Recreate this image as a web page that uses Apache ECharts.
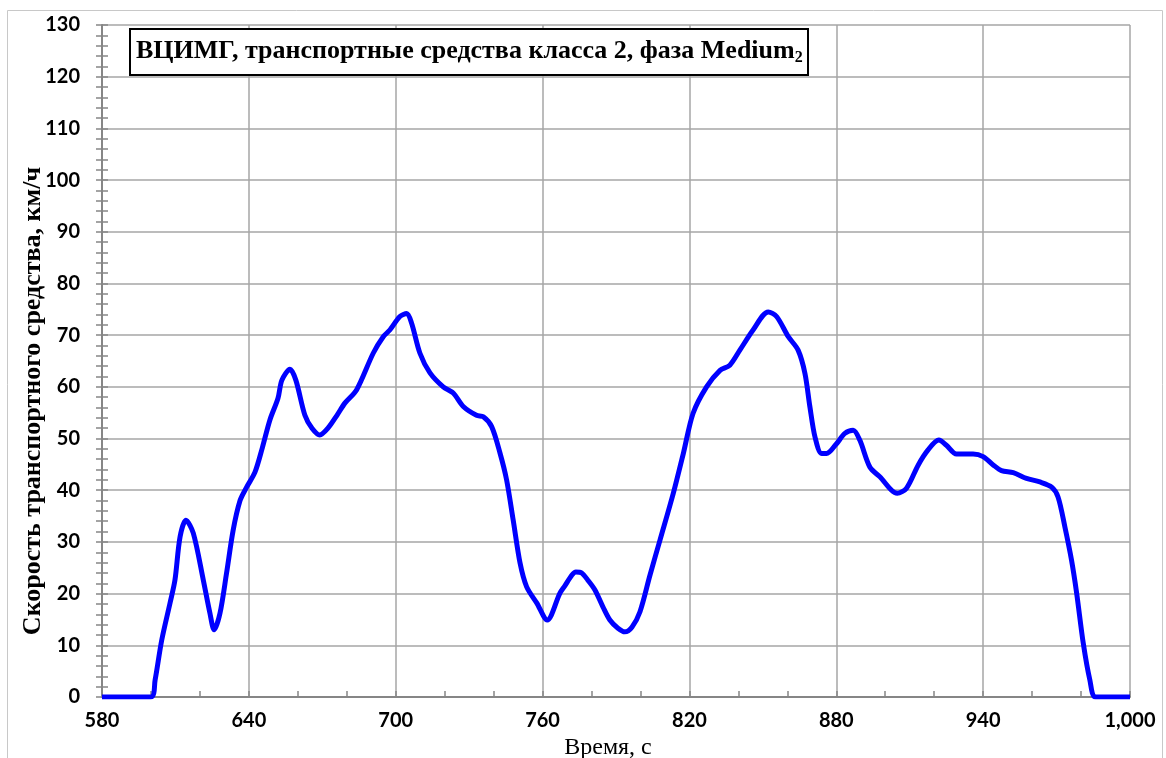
<!DOCTYPE html>
<html>
<head>
<meta charset="utf-8">
<script src="https://cdn.jsdelivr.net/npm/echarts@6/dist/echarts.min.js"></script>
<style>
  html, body { margin: 0; padding: 0; background: #fff; }
  #chart { width: 1166px; height: 758px; }
</style>
</head>
<body>
<div id="chart"></div>
<script>
// время, с
var times = [580, 600, 601.7, 604.4, 607.8, 609.8, 611.9, 614.3, 617.3, 621.4,
  624.1, 625.8, 628.2, 630.9, 633.6, 636.4, 639.1, 642.5, 645.5, 648.6,
  651.9, 653.5, 656.8, 659.2, 662.9, 665.8, 669, 672.3, 676, 679.3,
  684, 690.8, 694.9, 697.6, 701.7, 704.5, 706.5, 709.9, 714, 719.4,
  723.5, 727.6, 733, 735.8, 739.2, 742.6, 745.3, 748, 750.8, 753.5,
  757.6, 761.9, 767.1, 769.1, 772, 773.6, 776, 778.5, 781.4, 784.7,
  787.5, 790.8, 793.6, 796.5, 799.8, 803.9, 808, 813.4, 817.5, 821.5,
  827, 832.5, 836.5, 840.6, 846, 852.2, 855.6, 860.4, 864.4, 867.2,
  869.2, 871.3, 874, 876, 880.1, 883.5, 886.9, 889.6, 893.7, 897.8,
  904.9, 908.7, 913.5, 917.5, 921.9, 925, 929.1, 935.9, 940, 944.1,
  947.5, 952.3, 957.7, 963.2, 968, 970.6, 973.4, 976.1, 978.2, 980.9,
  983.6, 986, 1000];

// скорость, км/ч
var speeds = [0, 0, 3.3, 11, 18.2, 22.6, 31, 34.2, 31.7, 22.6,
  16.2, 13, 16.2, 24, 32.3, 38, 40.6, 43.5, 48.2, 53.6,
  57.8, 61.3, 63.4, 61.3, 54.5, 52, 50.7, 52, 54.5, 56.9,
  59.4, 66.5, 69.7, 71, 73.6, 74.2, 72.3, 66.5, 62.7, 60,
  58.8, 56.2, 54.5, 54.2, 52.3, 47.2, 42, 34.2, 25.9, 21.3,
  18.2, 14.9, 20.1, 21.5, 23.6, 24.2, 24, 22.6, 20.7, 17.4,
  14.9, 13.3, 12.6, 13.5, 16.5, 23.6, 30.4, 39.4, 47.1, 54.9,
  60, 63.2, 64.2, 67.1, 71, 74.5, 73.6, 69.7, 67.1, 62.6,
  56.2, 50.3, 47.1, 47.1, 49, 51, 51.6, 49.7, 44.5, 42.6,
  39.4, 40.4, 44.9, 47.8, 49.7, 48.7, 47, 47, 46.5, 44.9,
  43.8, 43.4, 42.3, 41.6, 40.6, 38.7, 32.9, 26.5, 20.1, 10.4,
  3.3, 0, 0];

var titleText = 'ВЦИМГ, транспортные средства класса 2, фаза Medium';
var yName = 'Скорость транспортного средства, км/ч';
var xName = 'Время, с';

var chart = echarts.init(document.getElementById('chart'));

var lineData = times.map(function (t, i) { return [t, speeds[i]]; });

var labelStyle = {
  fontFamily: 'Lato',
  fontWeight: 'bold',
  fontSize: 20,
  color: '#000'
};

var option = {
  backgroundColor: '#fff',
  animation: false,
  grid: { left: 102, right: 36, top: 25, bottom: 61, outerBoundsMode: 'none', containLabel: false },
  title: {
    text: '{t|' + titleText + '}{s|2}',
    left: 130,
    top: 27,
    padding: [9, 6, 9, 6],
    borderColor: '#000',
    borderWidth: 2,
    backgroundColor: '#fff',
    textStyle: {
      rich: {
        t: { fontFamily: 'Liberation Serif', fontWeight: 'bold', fontSize: 26, color: '#000', height: 30 },
        s: { fontFamily: 'Liberation Serif', fontWeight: 'bold', fontSize: 16, color: '#000', verticalAlign: 'bottom', padding: [11, 0, 0, 0] }
      }
    }
  },
  xAxis: [{
    type: 'value',
    min: 580,
    max: 1000,
    interval: 60,
    axisLine: { lineStyle: { color: '#868686', width: 2 } },
    axisTick: { show: true, inside: true, length: 6, lineStyle: { color: '#868686', width: 1.5 } },
    minorTick: { show: true, splitNumber: 3, length: 6, lineStyle: { color: '#868686', width: 1.5 } },
    splitLine: { show: true, lineStyle: { color: '#a6a6a6', width: 1.5 } },
    axisLabel: Object.assign({
      margin: 14,
      formatter: function (v) { return v >= 1000 ? '1,000' : String(v); }
    }, labelStyle),
    name: xName,
    nameLocation: 'middle',
    nameGap: 36,
    nameTextStyle: { fontFamily: 'Liberation Serif', fontSize: 24, color: '#000', padding: [0, 16, 0, 0] }
  }],
  yAxis: [{
    type: 'value',
    min: 0,
    max: 130,
    interval: 10,
    axisLine: { show: true, lineStyle: { color: '#868686', width: 2 } },
    axisTick: { show: true, inside: true, length: 6, lineStyle: { color: '#868686', width: 1.5 } },
    minorTick: { show: true, splitNumber: 5, length: 6, lineStyle: { color: '#868686', width: 1.5 } },
    splitLine: { show: true, lineStyle: { color: '#a6a6a6', width: 1.5 } },
    axisLabel: Object.assign({ margin: 22 }, labelStyle)
  }, {
    // tick marks on the outer side of the axis
    type: 'value',
    position: 'left',
    min: 0,
    max: 130,
    interval: 10,
    axisLine: { show: false },
    axisTick: { show: true, inside: false, length: 6, lineStyle: { color: '#868686', width: 1.5 } },
    minorTick: { show: true, splitNumber: 5, length: 6, lineStyle: { color: '#868686', width: 1.5 } },
    splitLine: { show: false },
    axisLabel: { show: false }
  }],
  graphic: [{
    type: 'text',
    x: 33,
    y: 401,
    rotation: Math.PI / 2,
    style: {
      text: yName,
      fontFamily: 'Liberation Serif',
      fontWeight: 'bold',
      fontSize: 26,
      fill: '#000',
      align: 'center',
      verticalAlign: 'middle'
    }
  }, {
    type: 'rect',
    left: 5,
    top: 8,
    shape: { width: 1155, height: 752 },
    style: { fill: 'none', stroke: '#c8c8c8', lineWidth: 1 },
    silent: true
  }],
  series: [{
    type: 'line',
    data: lineData,
    showSymbol: false,
    smooth: 0.3,
    lineStyle: { color: '#0000ff', width: 5 },
    z: 5
  }]
};

chart.setOption(option);
</script>
</body>
</html>
